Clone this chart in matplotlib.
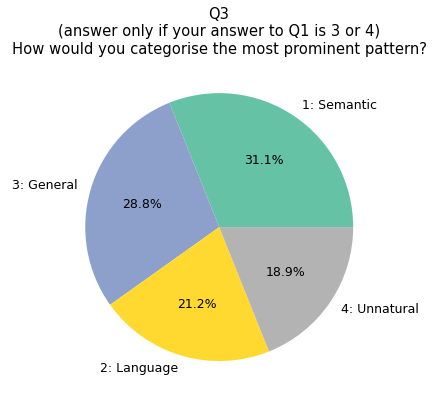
import matplotlib.pyplot as plt
import numpy as np

labels = ['1: Semantic', '3: General', '2: Language', '4: Unnatural']
counts = [41, 38, 28, 25]

colors = plt.get_cmap('Set2')(np.linspace(0, 1, len(counts)))

fig = plt.figure(figsize=(4.38, 4.03), dpi=100)
ax = fig.add_axes([0.118, 0.021, 0.765, 0.831])
ax.pie(counts, labels=labels, colors=colors, autopct='%1.1f%%',
       textprops={'fontsize': 9})
ax.set_aspect('equal')
fig.suptitle('Q3\n(answer only if your answer to Q1 is 3 or 4)\n'
             'How would you categorise the most prominent pattern?',
             fontsize=10.6, y=0.983)
fig.savefig('out.png', dpi=100)
